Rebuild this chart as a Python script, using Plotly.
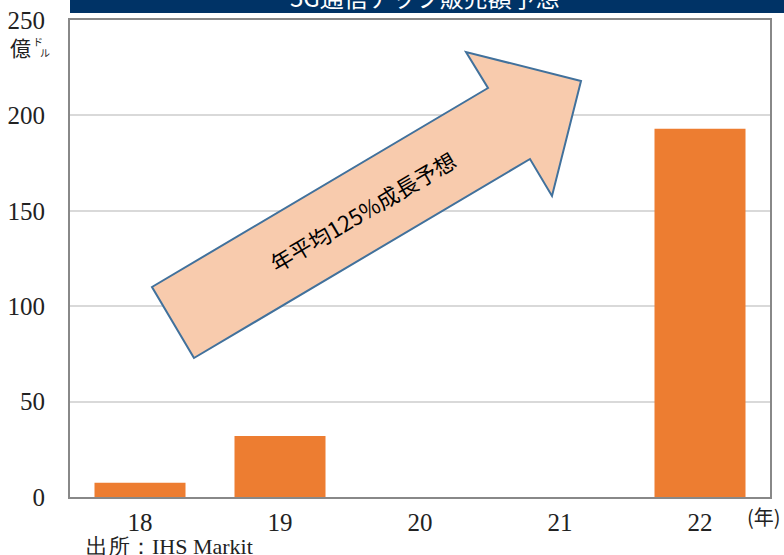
import plotly.graph_objects as go

# 5G通信チップ販売額（億ドル）
years = ["18", "19", "20", "21", "22"]
sales = [7.5, 32, 0, 0, 193]
y_ticks = [0, 50, 100, 150, 200, 250]

title_text = "5G通信チップ販売額予想"
unit_main = "億"
arrow_label = "年平均125%成長予想"
source_text = "出所：IHS Markit"
year_unit = "(年)"

SERIF = "Liberation Serif, Times New Roman, serif"
CJK = "Noto Sans CJK JP, sans-serif"

W, H = 784, 555
L, R, T, B = 70, 14, 20, 58
PW, PH = W - L - R, H - T - B


def px(x):
    return (x - L) / PW


def py(y):
    return (H - B - y) / PH


def note(text, x, y, font, xanchor="center", **kw):
    return dict(text=text, xref="paper", yref="paper", x=px(x), y=py(y),
                xanchor=xanchor, yanchor="middle", showarrow=False,
                font=font, **kw)


fig = go.Figure()
fig.add_trace(go.Bar(
    x=years, y=sales,
    marker=dict(color="#ED7D31", line=dict(width=0)),
    width=0.65,
))

# growth arrow (pixel outline converted to paper coordinates)
arrow_px = [(194, 358), (152, 287), (488, 88), (466, 52), (581, 81),
            (552, 196), (530, 159)]
path = "M " + " L ".join(f"{px(x):.5f},{py(y):.5f}" for x, y in arrow_px) + " Z"

shapes = [
    # title band
    dict(type="rect", xref="paper", yref="paper", x0=px(70), x1=px(784),
         y0=py(13), y1=py(-20), fillcolor="#003366", line=dict(width=0),
         layer="above"),
    dict(type="path", xref="paper", yref="paper", path=path,
         fillcolor="#F8CBAD", line=dict(color="#41719C", width=2),
         layer="above"),
]

annotations = [
    note(title_text, 425, -4, dict(family=CJK, size=24, color="white")),
    note(arrow_label, 362, 211, dict(family=CJK, size=22, color="black"),
         textangle=-30.6),
    note(unit_main, 21, 47, dict(family=CJK, size=21, color="#222")),
    note("ド", 38, 41, dict(family=CJK, size=10, color="#222")),
    note("ル", 45, 53, dict(family=CJK, size=10, color="#222")),
    note(year_unit, 764, 516, dict(family=CJK, size=20, color="#222")),
    note(source_text, 84, 546, dict(family=SERIF, size=22, color="#222"),
         xanchor="left"),
]

fig.update_layout(
    width=W, height=H,
    margin=dict(l=L, r=R, t=T, b=B, autoexpand=False),
    paper_bgcolor="white", plot_bgcolor="white",
    showlegend=False,
    shapes=shapes,
    annotations=annotations,
)
fig.update_xaxes(
    type="category", showgrid=False, automargin=False,
    showline=True, linecolor="#888888", linewidth=2, mirror=True,
    ticks="", ticklabelstandoff=2,
    tickfont=dict(family=SERIF, size=25, color="#222"),
)
fig.update_yaxes(
    range=[0, 250], tickvals=y_ticks, automargin=False,
    showgrid=True, gridcolor="#D9D9D9", gridwidth=1.5,
    showline=True, linecolor="#888888", linewidth=2, mirror=True,
    zeroline=False, ticks="", ticklabelstandoff=18,
    tickfont=dict(family=SERIF, size=25, color="#222"),
)

fig.write_html("out.html")
